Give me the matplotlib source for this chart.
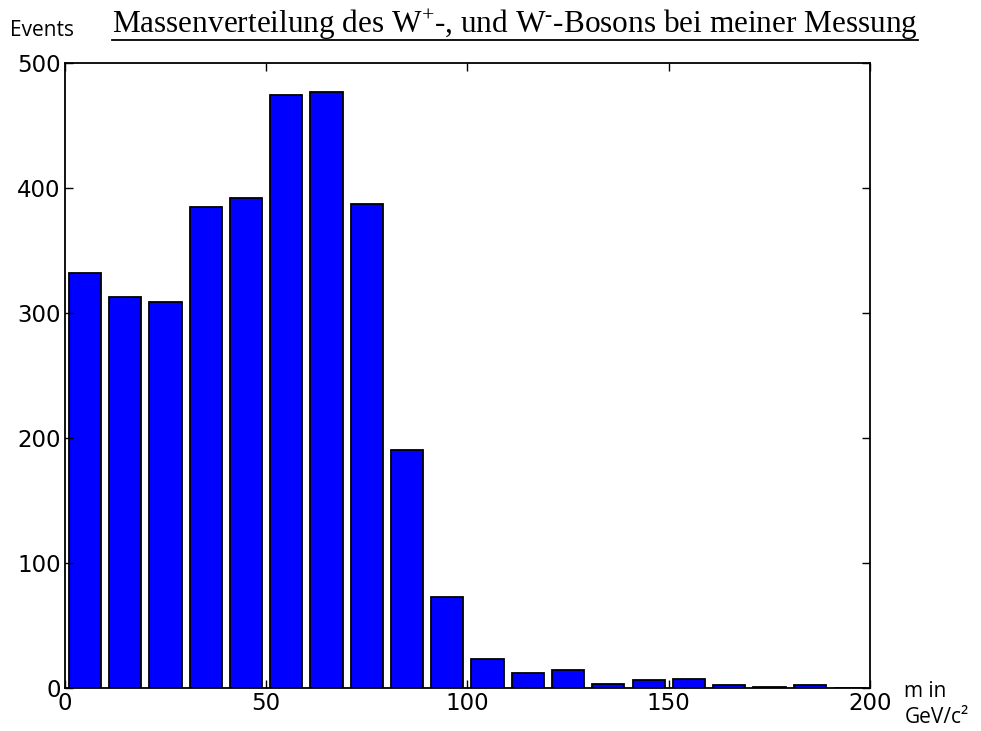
import matplotlib
matplotlib.use("Agg")
import matplotlib.pyplot as plt
from matplotlib.lines import Line2D

# Histogramm-Daten (Bin-Untergrenzen in GeV/c², Binbreite 10)
bin_starts = [0, 10, 20, 30, 40, 50, 60, 70, 80, 90,
              100, 110, 120, 130, 140, 150, 160, 170, 180, 190]
counts = [332, 313, 309, 385, 392, 474, 477, 387, 190, 73,
          23, 12, 14, 3, 6, 7, 2, 1, 2, 0]
x_ticks = [0, 50, 100, 150, 200]
y_ticks = [0, 100, 200, 300, 400, 500]

plt.rcParams["mathtext.fontset"] = "custom"
plt.rcParams["mathtext.rm"] = "Liberation Serif"
plt.rcParams["mathtext.it"] = "Liberation Serif:italic"

fig = plt.figure(figsize=(9.81, 7.31), dpi=100)
ax = fig.add_axes([0.066, 0.059, 0.821, 0.855])

centers = [b + 5 for b in bin_starts]
ax.bar(centers, counts, width=8, color="#0000ff", edgecolor="black", linewidth=1.3)

ax.set_xlim(0, 200)
ax.set_ylim(0, 500)
ax.set_xticks(x_ticks)
ax.set_yticks(y_ticks)
ax.tick_params(direction="in", top=True, right=True, length=6, width=1,
               labelsize=16.5, pad=3)
for s in ax.spines.values():
    s.set_linewidth(1.3)

# Achsenbeschriftungen
fig.text(0.010, 0.958, "Events", fontsize=15, family="Open Sans", va="center")
fig.text(0.922, 0.036, "m in\nGeV/c²", fontsize=15, family="Open Sans",
         va="center", linespacing=1.35)

# Titel, unterstrichen
title = fig.text(0.525, 0.966,
                 r"Massenverteilung des W$^{+}$-, und W$^{\text{-}}$-Bosons bei meiner Messung",
                 fontsize=22.5, family="Liberation Serif", ha="center", va="center")
fig.canvas.draw()
bb = title.get_window_extent().transformed(fig.transFigure.inverted())
fig.add_artist(Line2D([bb.x0, bb.x1], [bb.y0 + 0.002, bb.y0 + 0.002],
                      transform=fig.transFigure, color="black", linewidth=1.3))

fig.savefig("out.png", dpi=100)
